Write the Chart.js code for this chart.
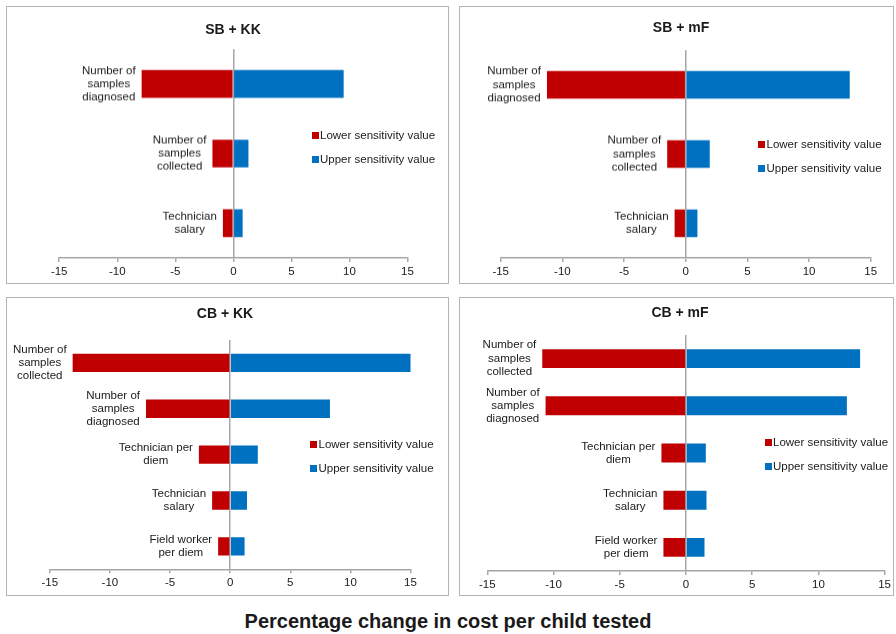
<!DOCTYPE html>
<html>
<head>
<meta charset="utf-8">
<script src="https://cdn.jsdelivr.net/npm/chart.js@4.4.1/dist/chart.umd.min.js"></script>
<style>
  html, body { margin: 0; padding: 0; background: #fff; }
  body { width: 896px; height: 634px; position: relative; overflow: hidden; font-family: "Liberation Sans", Arial, sans-serif; color: #1a1a1a; }
  .panel { position: absolute; box-sizing: border-box; border: 1.5px solid #b4b4b4; }
  .wrap { position: absolute; }
  .ptitle { position: absolute; font-weight: bold; font-size: 14px; transform: translate(-50%, -50%); white-space: nowrap; }
  .leg { position: absolute; font-size: 11.5px; white-space: nowrap; transform: translateY(-50%); }
  .leg i { position: absolute; left: -8.5px; top: 50%; width: 7px; height: 7px; margin-top: -3.5px; }
  #xtitle { position: absolute; left: 448px; top: 621px; transform: translate(-50%, -50%); font-weight: bold; font-size: 20px; white-space: nowrap; }
</style>
</head>
<body>
<div id="xtitle">Percentage change in cost per child tested</div>
<script>
// valores (variação % no custo por criança testada)
const seriesNames = ['Lower sensitivity value', 'Upper sensitivity value'];
const xMin = -15, xMax = 15, xStep = 5;

const sbkkLabels = [['Number of', 'samples', 'diagnosed'], ['Number of', 'samples', 'collected'], ['Technician', 'salary']];
const sbkkLower = [-7.9, -1.8, -0.9];
const sbkkUpper = [9.5, 1.3, 0.8];

const sbmfLabels = [['Number of', 'samples', 'diagnosed'], ['Number of', 'samples', 'collected'], ['Technician', 'salary']];
const sbmfLower = [-11.25, -1.5, -0.9];
const sbmfUpper = [13.3, 1.95, 0.95];

const cbkkLabels = [['Number of', 'samples', 'collected'], ['Number of', 'samples', 'diagnosed'], ['Technician per', 'diem'], ['Technician', 'salary'], ['Field worker', 'per diem']];
const cbkkLower = [-13.1, -7.0, -2.6, -1.5, -1.0];
const cbkkUpper = [15.1, 8.3, 2.3, 1.4, 1.2];

const cbmfLabels = [['Number of', 'samples', 'collected'], ['Number of', 'samples', 'diagnosed'], ['Technician per', 'diem'], ['Technician', 'salary'], ['Field worker', 'per diem']];
const cbmfLower = [-10.85, -10.6, -1.85, -1.7, -1.7];
const cbmfUpper = [13.15, 12.15, 1.5, 1.55, 1.4];

const lowerColor = '#c00000';
const upperColor = '#0070c0';
const axisGray = '#a6a6a6';

// posição de cada painel na página e da área do gráfico
const panels = [
  { title: 'SB + KK', labels: sbkkLabels, lower: sbkkLower, upper: sbkkUpper,
    box: [5.5, 6, 449, 283.5], area: [58.7, 49, 407, 257], titlePos: [233, 29], legPos: [320, 135] },
  { title: 'SB + mF', labels: sbmfLabels, lower: sbmfLower, upper: sbmfUpper,
    box: [459, 6, 894, 283.5], area: [500.7, 50, 870.7, 257], titlePos: [681, 27], legPos: [766.5, 144] },
  { title: 'CB + KK', labels: cbkkLabels, lower: cbkkLower, upper: cbkkUpper,
    box: [5.5, 297, 449, 596], area: [49.3, 340, 410, 569.3], titlePos: [225, 313], legPos: [318.5, 444] },
  { title: 'CB + mF', labels: cbmfLabels, lower: cbmfLower, upper: cbmfUpper,
    box: [459, 297, 894, 596], area: [487.3, 335, 885.7, 571], titlePos: [680, 312], legPos: [773, 442] }
];

const AXIS_H = 25;

// rótulos das categorias desenhados na ponta das barras vermelhas
const endLabels = {
  id: 'endLabels',
  afterDatasetsDraw(chart) {
    const ctx = chart.ctx;
    const meta = chart.getDatasetMeta(0);
    const lineH = 13.3;
    ctx.save();
    ctx.font = '11.5px "Liberation Sans", Arial, sans-serif';
    ctx.fillStyle = '#1a1a1a';
    ctx.textAlign = 'center';
    ctx.textBaseline = 'middle';
    chart.data.labels.forEach((lines, i) => {
      const bar = meta.data[i];
      const w = Math.max(...lines.map(l => ctx.measureText(l).width));
      const cx = Math.min(bar.x, bar.base) - 6 - w / 2;
      const y0 = bar.y - (lines.length - 1) * lineH / 2;
      lines.forEach((l, k) => ctx.fillText(l, cx, y0 + k * lineH));
    });
    ctx.restore();
  }
};

panels.forEach((p, n) => {
  const [bl, bt, br, bb] = p.box;
  const [al, at, ar, ab] = p.area;

  const frame = document.createElement('div');
  frame.className = 'panel';
  Object.assign(frame.style, { left: bl + 'px', top: bt + 'px', width: (br - bl) + 'px', height: (bb - bt) + 'px' });
  document.body.appendChild(frame);

  const wrap = document.createElement('div');
  wrap.className = 'wrap';
  Object.assign(wrap.style, { left: bl + 'px', top: bt + 'px', width: (br - bl) + 'px', height: (bb - bt) + 'px' });
  const canvas = document.createElement('canvas');
  wrap.appendChild(canvas);
  document.body.appendChild(wrap);

  const title = document.createElement('div');
  title.className = 'ptitle';
  title.textContent = p.title;
  title.style.left = p.titlePos[0] + 'px';
  title.style.top = p.titlePos[1] + 'px';
  document.body.appendChild(title);

  [lowerColor, upperColor].forEach((c, k) => {
    const leg = document.createElement('div');
    leg.className = 'leg';
    leg.innerHTML = '<i style="background:' + c + '"></i>' + seriesNames[k];
    leg.style.left = p.legPos[0] + 'px';
    leg.style.top = (p.legPos[1] + k * 24) + 'px';
    document.body.appendChild(leg);
  });

  new Chart(canvas, {
    type: 'bar',
    data: {
      labels: p.labels,
      datasets: [
        { label: seriesNames[0], data: p.lower, backgroundColor: lowerColor, borderWidth: 0 },
        { label: seriesNames[1], data: p.upper, backgroundColor: upperColor, borderWidth: 0 }
      ]
    },
    options: {
      indexAxis: 'y',
      responsive: true,
      maintainAspectRatio: false,
      animation: false,
      events: [],
      layout: {
        padding: {
          left: al - bl,
          right: br - ar,
          top: at - bt,
          bottom: Math.max(0, bb - ab - AXIS_H)
        }
      },
      datasets: { bar: { categoryPercentage: 1, barPercentage: 0.4 } },
      plugins: { legend: { display: false }, tooltip: { enabled: false }, title: { display: false } },
      scales: {
        x: {
          stacked: true,
          min: xMin,
          max: xMax,
          afterFit: (scale) => { scale.height = AXIS_H; },
          ticks: { stepSize: xStep, color: '#1a1a1a', padding: 3, font: { family: '"Liberation Sans", Arial, sans-serif', size: 11.5 } },
          border: { display: true, color: axisGray, width: 1.5 },
          grid: {
            drawOnChartArea: true,
            color: (c) => (c.tick && c.tick.value === 0 ? axisGray : 'rgba(0,0,0,0)'),
            lineWidth: 1.5,
            tickColor: axisGray,
            tickLength: 4
          }
        },
        y: { stacked: true, display: false }
      }
    },
    plugins: [endLabels]
  });
});
</script>
</body>
</html>
